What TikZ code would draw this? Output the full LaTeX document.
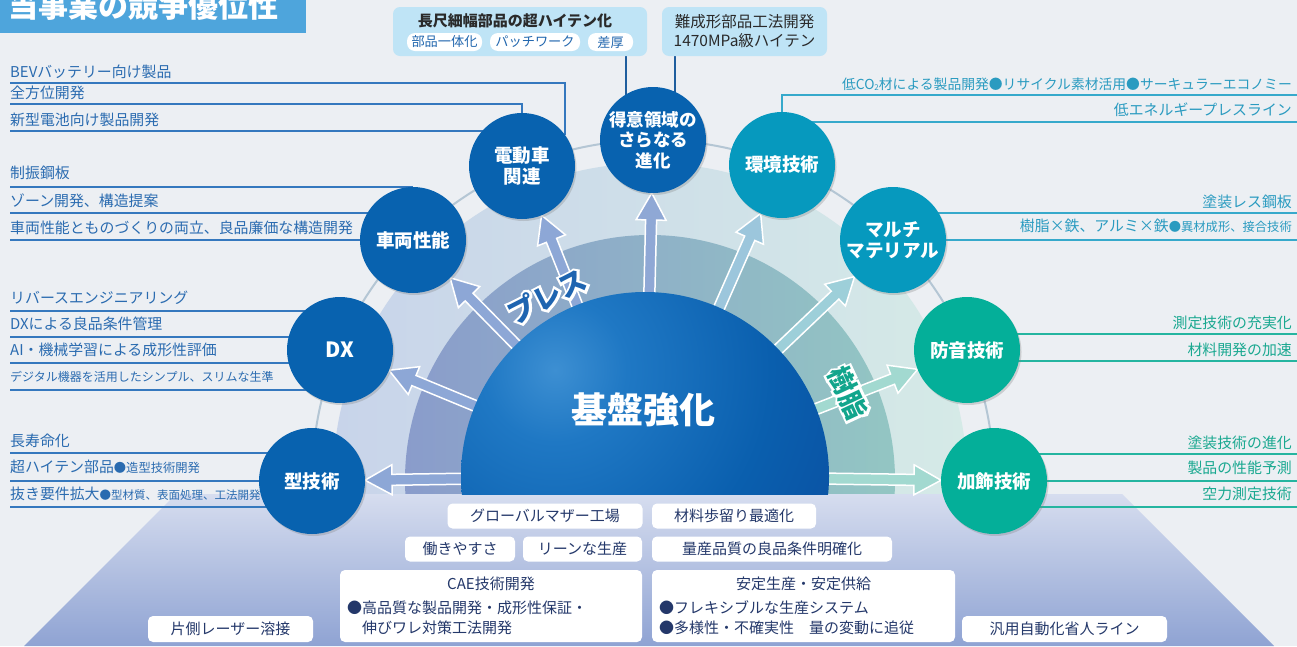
\documentclass[tikz,border=0pt]{standalone}
\usepackage{fontspec}
\setmainfont{Noto Sans CJK JP}
\newfontfamily\halofont{Noto Sans CJK JP}[FakeBold=18, BoldFeatures={FakeBold=18}]
\usetikzlibrary{calc,shadows}
\pgfdeclarelayer{bgl}
\pgfdeclarelayer{midl}
\pgfsetlayers{bgl,midl,main}
\definecolor{bgc}{HTML}{ECEFF3}
\definecolor{bandL}{HTML}{C8D4EA}
\definecolor{bandR}{HTML}{D5EAE7}
\definecolor{bandTL}{HTML}{8A9CCB}
\definecolor{bandTR}{HTML}{93C6C3}
\definecolor{ringc}{HTML}{B4C6D4}
\definecolor{platT}{HTML}{D6DDEF}
\definecolor{platB}{HTML}{8FA3D3}
\definecolor{dA}{HTML}{3D8FD2}
\definecolor{dB}{HTML}{1F78C4}
\definecolor{dC}{HTML}{0A5FAE}
\definecolor{dD}{HTML}{0B4D9F}
\definecolor{dE}{HTML}{1A3A8A}
\definecolor{dF}{HTML}{232878}
\definecolor{cBlue}{HTML}{0862AF}
\definecolor{cTeal}{HTML}{0699BE}
\definecolor{cGreen}{HTML}{04AF99}
\definecolor{aBlue}{HTML}{8DA7D6}
\definecolor{aTok}{HTML}{8FA8D5}
\definecolor{aKan}{HTML}{9CC6DC}
\definecolor{aMul}{HTML}{9DCFD9}
\definecolor{aGreen}{HTML}{A2D9D0}
\definecolor{txBlue}{HTML}{2A6BB0}
\definecolor{lnBlue}{HTML}{3578BE}
\definecolor{txTeal}{HTML}{2A9BC0}
\definecolor{lnTeal}{HTML}{36A9CB}
\definecolor{txGreen}{HTML}{19A890}
\definecolor{lnGreen}{HTML}{25B5A0}
\definecolor{boxTx}{HTML}{24386A}
\definecolor{titleC}{HTML}{4EA5DC}
\definecolor{topBox}{HTML}{BFE4F6}
\definecolor{pillTx}{HTML}{2166AE}
\definecolor{darkTx}{HTML}{2A2A2A}
\definecolor{tlineC}{HTML}{1F5E9E}
\definecolor{pressC}{HTML}{1E64B0}
\definecolor{jushiC}{HTML}{12A58C}
\pgfdeclareradialshading{domeshade}{\pgfpoint{0bp}{0bp}}{color(0bp)=(dA); color(6bp)=(dB); color(18bp)=(dC); color(30bp)=(dD); color(40bp)=(dE); color(50bp)=(dF)}
\newcommand\fatarrow[3]{%
  \coordinate (fah) at ($(#2)!27pt!(#1)$);
  \filldraw[fill=#3, draw=white, line width=1.5pt, line join=miter]
   ($(#1)!5.5pt!90:(#2)$) -- ($(fah)!5.5pt!90:(#2)$) -- ($(fah)!15pt!90:(#2)$) -- (#2)
   -- ($(fah)!15pt!-90:(#2)$) -- ($(fah)!5.5pt!-90:(#2)$) -- ($(#1)!5.5pt!-90:(#2)$) -- cycle;}
\tikzset{
  circ/.style={circle, minimum size=106pt, inner sep=0pt, text=white, align=center,
    font=\bfseries\fontsize{18.5pt}{21.5pt}\selectfont,
    drop shadow={shadow xshift=1.5pt, shadow yshift=-2pt, opacity=0.3}},
  ltxt/.style={anchor=west, text=txBlue, inner sep=0pt, font=\fontsize{14.9pt}{17pt}\selectfont},
  rtxtT/.style={anchor=east, text=txTeal, inner sep=0pt, font=\fontsize{14.9pt}{17pt}\selectfont},
  rtxtG/.style={anchor=east, text=txGreen, inner sep=0pt, font=\fontsize{14.9pt}{17pt}\selectfont},
  lline/.style={draw=lnBlue, line width=1.3pt},
  tline/.style={draw=lnTeal, line width=1.3pt},
  gline/.style={draw=lnGreen, line width=1.3pt},
  conn/.style={draw=tlineC, line width=1.1pt},
  wbox/.style={fill=white, rounded corners=5pt, text=boxTx, inner sep=0pt,
    font=\fontsize{15pt}{18pt}\selectfont},
  btxt/.style={text=boxTx, inner sep=0pt, font=\fontsize{15pt}{18pt}\selectfont},
  pill/.style={fill=white, rounded corners=8pt, text=pillTx, inner sep=0pt,
    minimum height=18pt, font=\fontsize{13.2pt}{15pt}\selectfont},
}
\newcommand\smallpart[1]{{\fontsize{12.3pt}{15pt}\selectfont #1}}
\begin{document}
\begin{tikzpicture}[x=1pt,y=-1pt]
\useasboundingbox (0,0) rectangle (1297,646);
% ---------- circles (main layer) ----------
\node[circ, fill=cBlue] (kata) at (312,481) {型技術};
\node[circ, fill=cBlue, font=\bfseries\fontsize{21pt}{24pt}\selectfont] (dx) at (340,350) {DX};
\node[circ, fill=cBlue] (shar) at (413,240) {車両性能};
\node[circ, fill=cBlue] (den) at (522,166) {電動車\\関連};
\node[circ, fill=cBlue, font=\bfseries\fontsize{17.5pt}{20.5pt}\selectfont] (tok) at (653,140) {得意領域の\\さらなる\\進化};
\node[circ, fill=cTeal] (kan) at (782,165) {環境技術};
\node[circ, fill=cTeal] (mul) at (893,240) {マルチ\\マテリアル};
\node[circ, fill=cGreen] (bou) at (967,350) {防音技術};
\node[circ, fill=cGreen] (kas) at (994,481) {加飾技術};
\coordinate (dc) at (645,476);
% ---------- background layer ----------
\begin{pgfonlayer}{bgl}
  \fill[bgc] (0,0) rectangle (1297,646);
  \begin{scope}
    \clip (0,0) rectangle (1297,494);
    \shade[left color=bandL, right color=bandR] (650,480) circle (317);
    \shade[left color=bandTL, right color=bandTR] (650,480) circle (245);
  \end{scope}
  \begin{scope}
    \clip (0,0) rectangle (1297,481);
    \draw[ringc, line width=2pt] (653,481) circle (341);
  \end{scope}
  \shade[top color=platT, bottom color=platB] (176,494) -- (1122,494) -- (1274,646) -- (24,646) -- cycle;
  \fill[titleC] (0,0) rectangle (306,33);
\end{pgfonlayer}
% ---------- middle layer: arrows, dome, lines ----------
\begin{pgfonlayer}{midl}
  \coordinate (tKata) at ($(kata)!53pt!(dc)$);
  \coordinate (tDx) at ($(dx)!53pt!(dc)$);
  \coordinate (tShar) at ($(shar)!53pt!(dc)$);
  \coordinate (tDen) at ($(den)!53pt!(dc)$);
  \coordinate (tTok) at ($(tok)!53pt!(dc)$);
  \coordinate (tKan) at ($(kan)!53pt!(dc)$);
  \coordinate (tMul) at ($(mul)!53pt!(dc)$);
  \coordinate (tBou) at ($(bou)!53pt!(dc)$);
  \coordinate (tKas) at ($(kas)!53pt!(dc)$);
  \fatarrow{dc}{tKata}{aBlue}
  \fatarrow{dc}{tDx}{aBlue}
  \fatarrow{dc}{tShar}{aBlue}
  \fatarrow{dc}{tDen}{aBlue}
  \fatarrow{dc}{tTok}{aTok}
  \fatarrow{dc}{tKan}{aKan}
  \fatarrow{dc}{tMul}{aMul}
  \fatarrow{dc}{tBou}{aGreen}
  \fatarrow{dc}{tKas}{aGreen}
  \begin{scope}
    \clip (0,0) rectangle (1297,494);
    \clip (645,476) circle (184);
    \shade[shading=domeshade] (555,370) circle (300);
  \end{scope}
  % left underlines
  \coordinate (ua1) at (10,83);  \draw[lline] (ua1) -| (den.36);
  \coordinate (ua2) at (10,104); \draw[lline] (ua2) -| (den);
  \coordinate (ua3) at (10,131); \draw[lline] (ua3) -- (ua3 -| den);
  \coordinate (ub1) at (10,187); \draw[lline] (ub1) -- (ub1 -| shar);
  \coordinate (ub2) at (10,213); \draw[lline] (ub2) -- (ub2 -| shar);
  \coordinate (ub3) at (10,240); \draw[lline] (ub3) -- (ub3 -| shar);
  \coordinate (uc1) at (10,311); \draw[lline] (uc1) -- (uc1 -| dx);
  \coordinate (uc2) at (10,337); \draw[lline] (uc2) -- (uc2 -| dx);
  \coordinate (uc3) at (10,363); \draw[lline] (uc3) -- (uc3 -| dx);
  \coordinate (uc4) at (10,390); \draw[lline] (uc4) -- (uc4 -| dx);
  \coordinate (ud1) at (10,453); \draw[lline] (ud1) -- (ud1 -| kata);
  \coordinate (ud2) at (10,481); \draw[lline] (ud2) -- (ud2 -| kata);
  \coordinate (ud3) at (10,507); \draw[lline] (ud3) -- (ud3 -| kata);
  % right underlines
  \coordinate (ue1) at (1297,95);  \draw[tline] (ue1) -| (kan);
  \coordinate (ue2) at (1297,122); \draw[tline] (ue2) -- (ue2 -| kan);
  \coordinate (uf1) at (1297,213); \draw[tline] (uf1) -- (uf1 -| mul);
  \coordinate (uf2) at (1297,240); \draw[tline] (uf2) -- (uf2 -| mul);
  \coordinate (ug1) at (1297,334); \draw[gline] (ug1) -- (ug1 -| bou);
  \coordinate (ug2) at (1297,361); \draw[gline] (ug2) -- (ug2 -| bou);
  \coordinate (uh1) at (1297,454); \draw[gline] (uh1) -- (uh1 -| kas);
  \coordinate (uh2) at (1297,481); \draw[gline] (uh2) -- (uh2 -| kas);
  \coordinate (uh3) at (1297,507); \draw[gline] (uh3) -- (uh3 -| kas);
  \coordinate (kx1) at (626,0);
  \coordinate (kx2) at (675,0);
  % white halos of the rotated labels
  \node[rotate=27, text=white, font=\halofont\bfseries\fontsize{28pt}{30pt}\selectfont] (pressH) at (547,296) {プレス};
  \node[rotate=-65, text=white, font=\halofont\bfseries\fontsize{27pt}{30pt}\selectfont] (jushiH) at (848,393) {樹脂};
\end{pgfonlayer}
% ---------- labels on dome ----------
\node[text=white, font=\bfseries\fontsize{36pt}{40pt}\selectfont] (kiban) at (643,410) {基盤強化};
\node[rotate=27, text=pressC, font=\bfseries\fontsize{28pt}{30pt}\selectfont] (press) at (547,296) {プレス};
\node[rotate=-65, text=jushiC, font=\bfseries\fontsize{27pt}{30pt}\selectfont] (jushi) at (848,393) {樹脂};
% ---------- title ----------
\node[anchor=base west, text=white, inner sep=0pt, font=\bfseries\fontsize{30pt}{30pt}\selectfont] (title) at (8,17) {当事業の競争優位性};
% ---------- top boxes ----------
\node[fill=topBox, rounded corners=7pt, minimum width=254pt, minimum height=49pt, inner sep=0pt] (tb1) at (520,31.5) {};
\node[text=darkTx, inner sep=0pt, font=\bfseries\fontsize{15pt}{18pt}\selectfont] (tb1t) at (515,21) {長尺細幅部品の超ハイテン化};
\node[pill, minimum width=75pt] (p1) at (444.5,42) {部品一体化};
\node[pill, minimum width=90pt] (p2) at (535,42) {パッチワーク};
\node[pill, minimum width=45pt] (p3) at (610.5,42) {差厚};
\node[fill=topBox, rounded corners=7pt, minimum width=165pt, minimum height=49pt, inner sep=0pt,
  text=darkTx, align=center, font=\fontsize{15.5pt}{19pt}\selectfont] (tb2) at (744.5,31.5) {難成形部品工法開発\\1470MPa級ハイテン};
\begin{pgfonlayer}{midl}
  \draw[conn] (tb1.south -| kx1) -- (tok -| kx1);
  \draw[conn] (tb2.south -| kx2) -- (tok -| kx2);
\end{pgfonlayer}
% ---------- left lists ----------
\node[ltxt] (a1) at (10,72) {BEVバッテリー向け製品};
\node[ltxt] (a2) at (10,93) {全方位開発};
\node[ltxt] (a3) at (10,120) {新型電池向け製品開発};
\node[ltxt] (b1) at (10,173) {制振鋼板};
\node[ltxt] (b2) at (10,201) {ゾーン開発、構造提案};
\node[ltxt] (b3) at (10,228) {車両性能とものづくりの両立、良品廉価な構造開発};
\node[ltxt] (c1) at (10,298) {リバースエンジニアリング};
\node[ltxt] (c2) at (10,324) {DXによる良品条件管理};
\node[ltxt] (c3) at (10,350) {AI・機械学習による成形性評価};
\node[ltxt, font=\fontsize{12pt}{15pt}\selectfont] (c4) at (10,377) {デジタル機器を活用したシンプル、スリムな生準};
\node[ltxt] (d1) at (10,441) {長寿命化};
\node[ltxt] (d2) at (10,467) {超ハイテン部品\smallpart{●造型技術開発}};
\node[ltxt] (d3) at (10,494) {抜き要件拡大{\fontsize{11.5pt}{14pt}\selectfont ●型材質、表面処理、工法開発}};
% ---------- right lists ----------
\node[rtxtT, font=\fontsize{13.8pt}{16pt}\selectfont] (e1) at (1292,84) {低CO\raisebox{-0.15ex}{\fontsize{8pt}{8pt}\selectfont 2}材による製品開発●リサイクル素材活用●サーキュラーエコノミー};
\node[rtxtT] (e2) at (1292,110) {低エネルギープレスライン};
\node[rtxtT] (f1) at (1292,202) {塗装レス鋼板};
\node[rtxtT] (f2) at (1292,226) {樹脂×鉄、アルミ×鉄\smallpart{●異材成形、接合技術}};
\node[rtxtG] (g1) at (1292,323) {測定技術の充実化};
\node[rtxtG] (g2) at (1292,350) {材料開発の加速};
\node[rtxtG] (h1) at (1292,443) {塗装技術の進化};
\node[rtxtG] (h2) at (1292,468) {製品の性能予測};
\node[rtxtG] (h3) at (1292,494) {空力測定技術};
% ---------- bottom boxes ----------
\node[wbox, minimum width=195pt, minimum height=25pt] (n1) at (545,516) {グローバルマザー工場};
\node[wbox, minimum width=164pt, minimum height=25pt] (n2) at (734,516) {材料歩留り最適化};
\node[wbox, minimum width=110pt, minimum height=25pt] (n3) at (460,549) {働きやすさ};
\node[wbox, minimum width=119pt, minimum height=25pt] (n4) at (582.5,549) {リーンな生産};
\node[wbox, minimum width=240pt, minimum height=25pt] (n5) at (772,549) {量産品質の良品条件明確化};
\node[wbox, minimum width=302pt, minimum height=72pt] (n6) at (491,606) {};
\node[btxt] (n6t) at (491,584) {CAE技術開発};
\node[btxt, anchor=west] (n6a) at (347,608) {●高品質な製品開発・成形性保証・};
\node[btxt, anchor=west] (n6b) at (362,628) {伸びワレ対策工法開発};
\node[wbox, minimum width=303pt, minimum height=72pt] (n7) at (803.5,606) {};
\node[btxt] (n7t) at (803.5,584) {安定生産・安定供給};
\node[btxt, anchor=west] (n7a) at (659,608) {●フレキシブルな生産システム};
\node[btxt, anchor=west] (n7b) at (659,628) {●多様性・不確実性　量の変動に追従};
\node[wbox, minimum width=165pt, minimum height=26pt] (n8) at (230.5,629) {片側レーザー溶接};
\node[wbox, minimum width=205pt, minimum height=26pt] (n9) at (1064.5,629) {汎用自動化省人ライン};
\end{tikzpicture}
\end{document}
